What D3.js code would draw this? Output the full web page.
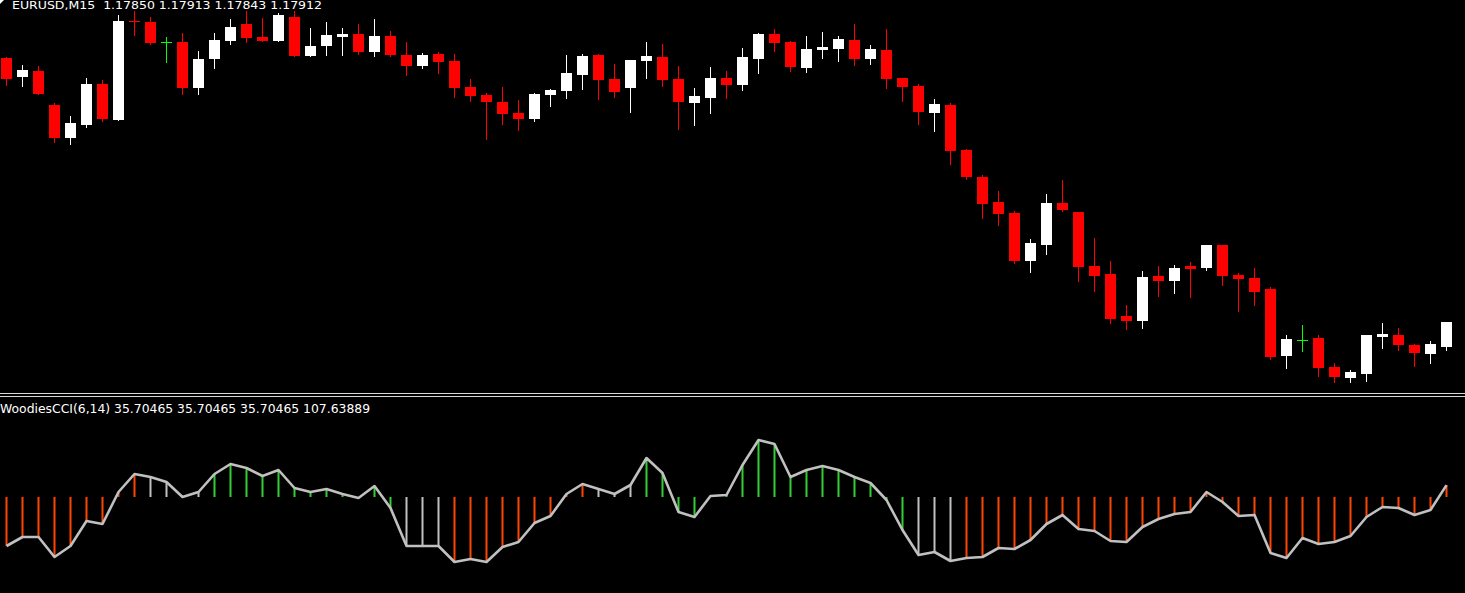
<!DOCTYPE html>
<html>
<head>
<meta charset="utf-8">
<script src="https://d3js.org/d3.v7.min.js"></script>
<style>
  html, body { margin: 0; padding: 0; background: #000; overflow: hidden; }
  svg { display: block; }
</style>
</head>
<body>
<script>
// ---- Data (EURUSD, M15) ----
const symbol = "EURUSD,M15";
const openP = [1.18572,1.18525,1.18540,1.18455,1.18372,1.18405,1.18507,1.18417,1.18665,1.18662,
  1.18612,1.18612,1.18497,1.18570,1.18615,1.18657,1.18625,1.18615,1.18675,1.18577,
  1.18602,1.18625,1.18632,1.18587,1.18627,1.18580,1.18552,1.18582,1.18565,1.18500,
  1.18480,1.18462,1.18435,1.18420,1.18480,1.18490,1.18530,1.18580,1.18520,1.18497,
  1.18565,1.18575,1.18520,1.18460,1.18472,1.18522,1.18505,1.18570,1.18632,1.18612,
  1.18547,1.18592,1.18595,1.18617,1.18570,1.18592,1.18522,1.18502,1.18435,1.18455,
  1.18342,1.18275,1.18212,1.18185,1.18065,1.18105,1.18210,1.18187,1.18052,1.18032,
  1.17927,1.17915,1.18027,1.18015,1.18052,1.18047,1.18105,1.18030,1.18022,1.17995,
  1.17827,1.17867,1.17872,1.17800,1.17772,1.17782,1.17875,1.17880,1.17855,1.17832,
  1.17850];
const highP = [1.18575,1.18555,1.18552,1.18460,1.18427,1.18522,1.18517,1.18680,1.18690,1.18675,
  1.18625,1.18635,1.18590,1.18635,1.18670,1.18690,1.18672,1.18685,1.18690,1.18647,
  1.18662,1.18647,1.18657,1.18670,1.18640,1.18612,1.18585,1.18587,1.18582,1.18520,
  1.18485,1.18500,1.18467,1.18485,1.18495,1.18580,1.18582,1.18582,1.18557,1.18567,
  1.18612,1.18607,1.18552,1.18497,1.18550,1.18540,1.18597,1.18635,1.18645,1.18615,
  1.18627,1.18637,1.18627,1.18657,1.18605,1.18645,1.18522,1.18507,1.18470,1.18460,
  1.18345,1.18280,1.18240,1.18190,1.18120,1.18232,1.18267,1.18187,1.18122,1.18065,
  1.17955,1.18040,1.18052,1.18055,1.18062,1.18105,1.18105,1.18035,1.18047,1.18000,
  1.17880,1.17905,1.17880,1.17810,1.17792,1.17880,1.17910,1.17897,1.17857,1.17865,
  1.17913];
const lowP = [1.18505,1.18502,1.18482,1.18362,1.18357,1.18400,1.18415,1.18417,1.18630,1.18607,
  1.18562,1.18482,1.18482,1.18547,1.18607,1.18612,1.18615,1.18615,1.18577,1.18577,
  1.18580,1.18580,1.18582,1.18577,1.18577,1.18530,1.18547,1.18535,1.18475,1.18465,
  1.18370,1.18407,1.18392,1.18415,1.18452,1.18472,1.18495,1.18470,1.18475,1.18437,
  1.18522,1.18502,1.18395,1.18405,1.18435,1.18472,1.18492,1.18535,1.18590,1.18540,
  1.18537,1.18572,1.18565,1.18555,1.18557,1.18497,1.18465,1.18407,1.18390,1.18307,
  1.18270,1.18172,1.18155,1.18060,1.18037,1.18082,1.18190,1.18015,1.17990,1.17910,
  1.17895,1.17897,1.17977,1.17985,1.17975,1.18042,1.18005,1.17940,1.17955,1.17820,
  1.17797,1.17840,1.17777,1.17762,1.17762,1.17765,1.17847,1.17842,1.17802,1.17810,
  1.17843];
const closeP = [1.18520,1.18542,1.18482,1.18372,1.18410,1.18507,1.18420,1.18665,1.18662,1.18610,
  1.18612,1.18497,1.18570,1.18617,1.18650,1.18622,1.18615,1.18680,1.18577,1.18602,
  1.18630,1.18632,1.18587,1.18627,1.18580,1.18552,1.18580,1.18562,1.18497,1.18477,
  1.18462,1.18432,1.18420,1.18482,1.18492,1.18535,1.18577,1.18517,1.18487,1.18567,
  1.18577,1.18517,1.18462,1.18477,1.18522,1.18505,1.18575,1.18632,1.18610,1.18550,
  1.18595,1.18600,1.18620,1.18570,1.18595,1.18520,1.18500,1.18437,1.18457,1.18340,
  1.18275,1.18207,1.18182,1.18065,1.18110,1.18210,1.18192,1.18050,1.18027,1.17920,
  1.17915,1.18025,1.18015,1.18047,1.18045,1.18105,1.18027,1.18020,1.17987,1.17825,
  1.17870,1.17867,1.17797,1.17775,1.17787,1.17880,1.17882,1.17855,1.17835,1.17857,
  1.17912];

// Woodies CCI(6,14) values per bar
const cciValues = [-147,-120,-120,-180,-147,-72,-81,15,69,60,
  45,0,15,69,99,87,63,81,27,15,
  24,9,-3,33,-33,-147,-147,-147,-195,-186,
  -195,-150,-135,-78,-57,9,39,24,9,36,
  117,72,-45,-60,3,6,96,171,159,60,
  81,93,81,60,42,-9,-99,-174,-165,-192,
  -183,-180,-153,-156,-129,-81,-54,-96,-102,-132,
  -135,-90,-66,-51,-45,15,-15,-57,-54,-168,
  -183,-123,-141,-135,-117,-60,-30,-33,-54,-39,
  35.70465];
// histogram trend state per bar (run lengths)
const trendRuns = [["down",9],["neutral",4],["up",12],["neutral",3],["down",9],
  ["neutral",3],["up",17],["neutral",3],["down",31]];
const cciLabelValues = ["35.70465","35.70465","35.70465","107.63889"];
const cciName = "WoodiesCCI(6,14)";

// ---- Layout ----
const W = 1465, H = 593;
const mainTop = 0, mainBottom = 393;
const n = openP.length;
const trend = trendRuns.flatMap(([t, k]) => Array(k).fill(t));

const svg = d3.select("body").append("svg").attr("width", W).attr("height", H)
  .style("background", "#000");

const x = d3.scaleLinear().domain([0, n - 1]).range([6, 1446]);
const y = d3.scaleLinear().domain([1.18717, 1.177345]).range([mainTop, mainBottom]);
const yc = d3.scaleLinear().domain([-288, 288]).range([593, 401]);

const colorOf = (i) => closeP[i] > openP[i] ? "#ffffff" : (closeP[i] < openP[i] ? "#ff0000" : "#00ff00");

// ---- Candles ----
const main = svg.append("g");
const candles = main.selectAll("g.c").data(d3.range(n)).join("g").attr("class", "c");
candles.append("line")
  .attr("x1", i => Math.round(x(i)) + 0.5).attr("x2", i => Math.round(x(i)) + 0.5)
  .attr("y1", i => Math.round(y(highP[i]))).attr("y2", i => Math.round(y(lowP[i])) + 1)
  .attr("stroke", colorOf).attr("stroke-width", 1);
candles.append("rect")
  .attr("x", i => Math.round(x(i)) - 5)
  .attr("width", 11)
  .attr("y", i => Math.round(y(Math.max(openP[i], closeP[i]))))
  .attr("height", i => Math.max(1, Math.round(y(Math.min(openP[i], closeP[i]))) - Math.round(y(Math.max(openP[i], closeP[i])))))
  .attr("fill", colorOf);

// ---- Title ----
svg.append("path").attr("d", "M0,0 L4,0 L0,4 Z").attr("fill", "#ffffff");
svg.append("text")
  .attr("x", 12).attr("y", 9)
  .attr("font-family", "'DejaVu Sans', sans-serif").attr("font-size", 11)
  .attr("fill", "#ffffff")
  .attr("textLength", 310).attr("lengthAdjust", "spacingAndGlyphs")
  .attr("xml:space", "preserve")
  .text(`${symbol}  ${openP[n-1].toFixed(5)} ${highP[n-1].toFixed(5)} ${lowP[n-1].toFixed(5)} ${closeP[n-1].toFixed(5)}`);

// ---- Separator ----
svg.append("line").attr("x1", 0).attr("x2", W).attr("y1", 393.5).attr("y2", 393.5).attr("stroke", "#d8d8d8");
svg.append("line").attr("x1", 0).attr("x2", W).attr("y1", 396.5).attr("y2", 396.5).attr("stroke", "#d8d8d8");

// ---- CCI subwindow ----
const trendColor = { down: "#ff4500", up: "#32cd32", neutral: "#c0c0c0" };
const sub = svg.append("g");
sub.selectAll("rect.h").data(d3.range(n)).join("rect").attr("class", "h")
  .attr("x", i => Math.round(x(i)) - 0.5)
  .attr("width", 2)
  .attr("y", i => Math.min(yc(0), yc(cciValues[i])))
  .attr("height", i => Math.abs(yc(cciValues[i]) - yc(0)))
  .attr("fill", i => trendColor[trend[i]]);
sub.append("path")
  .datum(d3.range(n))
  .attr("d", d3.line().x(i => x(i) + 0.5).y(i => yc(cciValues[i])))
  .attr("fill", "none").attr("stroke", "#c0c0c0").attr("stroke-width", 2.6)
  .attr("stroke-linejoin", "round");

svg.append("text")
  .attr("x", 0).attr("y", 413)
  .attr("font-family", "'DejaVu Sans', sans-serif").attr("font-size", 12)
  .attr("fill", "#ffffff")
  .attr("textLength", 370).attr("lengthAdjust", "spacingAndGlyphs")
  .text(`${cciName} ${cciLabelValues.join(" ")}`);
</script>
</body>
</html>
